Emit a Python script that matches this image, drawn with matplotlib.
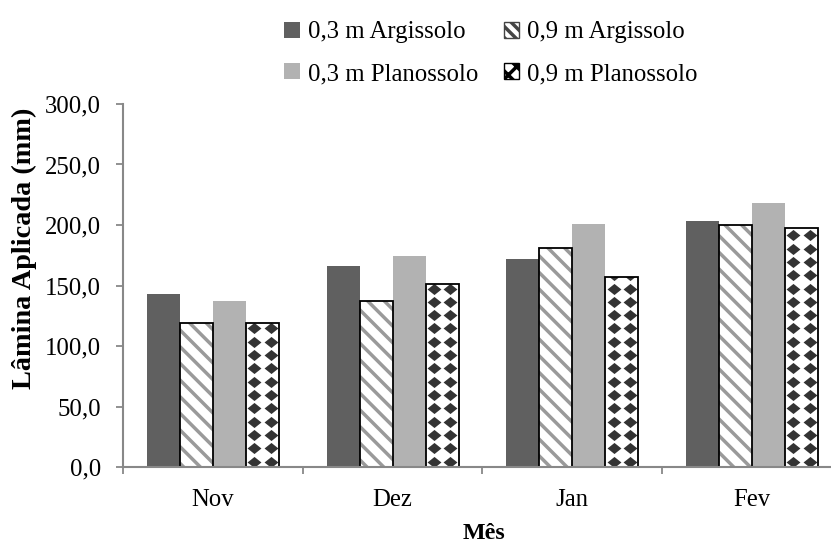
import matplotlib
matplotlib.use("Agg")
import matplotlib.pyplot as plt
from matplotlib.patches import Patch
from matplotlib.path import Path
from matplotlib.ticker import FuncFormatter
import numpy as np

# dados
meses = ["Nov", "Dez", "Jan", "Fev"]
arg_03 = [143.0, 166.5, 172.0, 203.3]
arg_09 = [119.0, 137.0, 181.0, 200.3]
plan_03 = [137.5, 174.5, 201.0, 218.0]
plan_09 = [119.0, 151.5, 157.0, 197.2]
rotulos = ["0,3 m Argissolo", "0,9 m Argissolo", "0,3 m Planossolo", "0,9 m Planossolo"]

plt.rcParams["font.family"] = ["Liberation Serif", "DejaVu Serif"]
plt.rcParams["font.size"] = 17.8
plt.rcParams["hatch.linewidth"] = 2.5

fig = plt.figure(figsize=(8.31, 5.44), dpi=100)
ax = fig.add_axes([123 / 831, 1 - 467 / 544, (842 - 123) / 831, (467 - 104) / 544])

x = np.arange(len(meses))
w = 0.733 / 4
desl = (np.arange(4) - 1.5) * w

ax.bar(x + desl[0], arg_03, w, color="#606060", linewidth=0)
ax.bar(x + desl[1], arg_09, w, color="white", edgecolor="#9a9a9a", hatch="\\\\", linewidth=0)
ax.bar(x + desl[1], arg_09, w, fill=False, edgecolor="black", linewidth=1.3, zorder=2)
ax.bar(x + desl[2], plan_03, w, color="#b2b2b2", linewidth=0)
barras = ax.bar(x + desl[3], plan_09, w, color="white", linewidth=0)

# textura de losangos
losango = Path([(-1, 0), (0, 0.8), (1, 0), (0, -0.8), (-1, 0)],
               [Path.MOVETO, Path.LINETO, Path.LINETO, Path.LINETO, Path.CLOSEPOLY])
for b in barras:
    x0 = b.get_x()
    xs = [x0 + w / 4, x0 + 3 * w / 4]
    ys = np.arange(4.5, b.get_height() + 6, 11.0)
    gx, gy = np.meshgrid(xs, ys)
    sc = ax.scatter(gx.ravel(), gy.ravel(), s=100, marker=losango,
                    color="#333333", linewidths=0, zorder=1.5)
    sc.set_clip_path(b)
ax.bar(x + desl[3], plan_09, w, fill=False, edgecolor="black", linewidth=1.3, zorder=2)

# eixos
ax.set_ylim(0, 300)
ax.set_yticks(np.arange(0, 301, 50))
ax.yaxis.set_major_formatter(FuncFormatter(lambda v, p: f"{v:.1f}".replace(".", ",")))
ax.set_xlim(-0.5, 3.5)
ax.set_xticks(x, meses)
ax.set_xticks(np.arange(-0.5, 4, 1), minor=True)
ax.tick_params(axis="x", which="major", length=0, pad=16)
ax.tick_params(axis="x", which="minor", length=5, color="#888888", width=1.3)
ax.tick_params(axis="y", length=5, color="#888888", width=1.3, pad=11)
for s in ["top", "right"]:
    ax.spines[s].set_visible(False)
for s in ["left", "bottom"]:
    ax.spines[s].set_color("#888888")
    ax.spines[s].set_linewidth(1.5)

fig.text(24 / 831, 1 - 248 / 544, "Lâmina Aplicada (mm)", rotation=90,
         ha="center", va="center", fontweight="bold", fontsize=20.3)
fig.text(484 / 831, 1 - 539 / 544, "Mês", ha="center", va="baseline",
         fontweight="bold", fontsize=17.3)

# legenda
alcas = [
    Patch(facecolor="#606060", linewidth=0),
    Patch(facecolor="#b2b2b2", linewidth=0),
    Patch(facecolor="white", edgecolor="#444444", hatch="\\\\\\", linewidth=1.0),
    Patch(facecolor="white", edgecolor="black", hatch="xx", linewidth=1.0),
]
fig.legend(alcas, [rotulos[0], rotulos[2], rotulos[1], rotulos[3]], ncol=2,
           loc="upper left", bbox_to_anchor=(272 / 831, 1 - 9 / 544),
           frameon=False, borderpad=0, handlelength=0.62, handleheight=0.62,
           handletextpad=0.32, columnspacing=1.05, labelspacing=0.8)

fig.savefig("out.png", dpi=100)
